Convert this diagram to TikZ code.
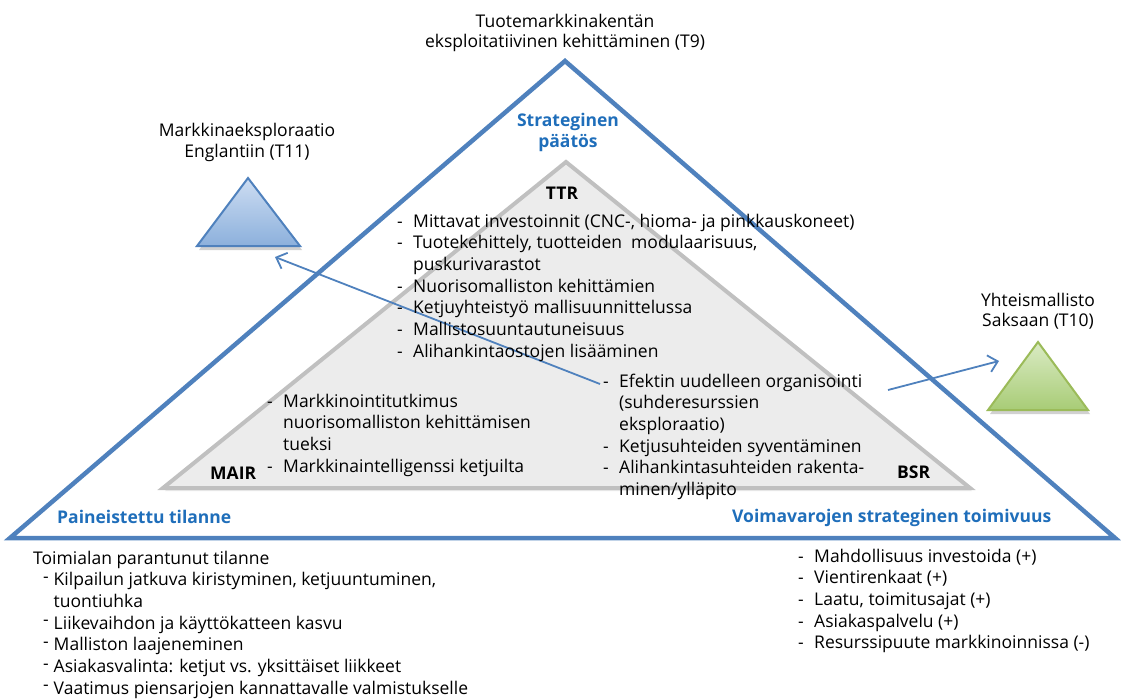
\documentclass[tikz,border=0pt]{standalone}
\usepackage{fontspec}
\setmainfont{Open Sans}
\usetikzlibrary{arrows.meta}

\definecolor{frameblue}{RGB}{79,129,189}
\definecolor{labelblue}{RGB}{31,110,186}
\definecolor{innerline}{RGB}{192,192,192}
\definecolor{innerfill}{RGB}{236,236,236}
\definecolor{bluetop}{RGB}{205,221,242}
\definecolor{bluebot}{RGB}{140,176,220}
\definecolor{greentop}{RGB}{218,235,196}
\definecolor{greenbot}{RGB}{168,204,118}
\definecolor{greenline}{RGB}{155,187,89}

\newcommand\bodyfont{\fontsize{17.5}{21.7}\selectfont}
\newcommand\lidash{\makebox[16pt][l]{-}}
\newcommand\liskip{\hspace*{16pt}}
\newcommand\lowdash{\makebox[16pt][l]{\raisebox{0.35ex}{-}}}

\tikzset{
  body/.style={font=\bodyfont, inner sep=0pt, anchor=base west},
  title/.style={font=\bodyfont, inner sep=0pt, anchor=base, align=center},
  tag/.style={font=\bodyfont\bfseries, inner sep=0pt, anchor=base west},
  bluetag/.style={font=\bodyfont\bfseries, text=labelblue, inner sep=0pt},
  link/.style={draw=frameblue, line width=1.8pt,
    -{Straight Barb[length=9pt, width=17pt, line width=1.8pt]}},
  shadow/.style={fill=black, opacity=0.18},
}

\begin{document}
\begin{tikzpicture}[x=1pt, y=-1pt]
\useasboundingbox (0,0) rectangle (1121,699);

% outer frame triangle
\draw[frameblue, line width=4.5pt, line join=miter] (10,538) -- (565,61) -- (1115,538) -- cycle;

% inner resource triangle
\fill[black, opacity=0.08] (165,491) -- (566,165) -- (972,491) -- cycle;
\draw[innerline, fill=innerfill, line width=4pt, line join=miter] (163,488) -- (566,162) -- (970,488) -- cycle;

% small market triangles
\fill[shadow] (199,250) -- (249,181) -- (302,250) -- cycle;
\draw[frameblue, line width=2pt, top color=bluetop, bottom color=bluebot] (197,246) -- (248,178) -- (300,246) -- cycle;
\fill[shadow] (990,414) -- (1039,346) -- (1090,414) -- cycle;
\draw[greenline, line width=2pt, top color=greentop, bottom color=greenbot] (988,410) -- (1038,342) -- (1088,410) -- cycle;

% connector end points
\coordinate (efStart) at (600,384);
\coordinate (efEnd) at (888,390);
\coordinate (t11) at (275,257);
\coordinate (t10) at (999,361);
\draw[link] (efStart) -- (t11);
\draw[link] (efEnd) -- (t10);

% titles
\node[title] (t9a) at (565,27) {Tuotemarkkinakentän};
\node[title] (t9b) at (565,47) {eksploitatiivinen kehittäminen (T9)};
\node[title] (t11a) at (247,136) {Markkinaeksploraatio};
\node[title] (t11b) at (247,157) {Englantiin (T11)};
\node[title] (t10a) at (1038,306) {Yhteismallisto};
\node[title] (t10b) at (1038,326) {Saksaan (T10)};

\node[bluetag, anchor=base] (strA) at (568,126) {Strateginen};
\node[bluetag, anchor=base] (strB) at (568,147) {päätös};
\node[bluetag, anchor=base west] (paine) at (57,523) {Paineistettu tilanne};
\node[bluetag, anchor=base west] (voima) at (732,522) {Voimavarojen\ strateginen toimivuus};

% resource labels
\node[tag, anchor=base] (ttr) at (562,199) {TTR};
\node[tag] (mair) at (210,479) {MAIR};
\node[tag] (bsr) at (897,478) {BSR};

% TTR items
\node[body] (ttrlist) at (397,227) {\begin{tabular}[t]{@{}l@{}}
\lidash Mittavat investoinnit (CNC-, hioma- ja pinkkauskoneet)\\
\lidash Tuotekehittely, tuotteiden\ \ modulaarisuus,\\
\liskip puskurivarastot\\
\lidash Nuorisomalliston kehittämien\\
\lidash Ketjuyhteistyö mallisuunnittelussa\\
\lidash Mallistosuuntautuneisuus\\
\lidash Alihankintaostojen lisääminen
\end{tabular}};

% MAIR items
\node[body] (mairlist) at (267,407) {\begin{tabular}[t]{@{}l@{}}
\lidash Markkinointitutkimus\\
\liskip nuorisomalliston kehittämisen\\
\liskip tueksi\\
\lidash Markkinaintelligenssi ketjuilta
\end{tabular}};

% BSR items
\node[body] (bsrlist) at (603,387) {\begin{tabular}[t]{@{}l@{}}
\lidash Efektin uudelleen organisointi\\
\liskip (suhderesurssien\\
\liskip eksploraatio)\\
\lidash Ketjusuhteiden syventäminen\\
\lidash Alihankintasuhteiden rakenta-\\
\liskip minen/ylläpito
\end{tabular}};

% situation below the frame
\node[body] (sitlist) at (33,564) {\begin{tabular}[t]{@{}l@{}}
Toimialan parantunut tilanne\\
\hspace*{10pt}\makebox[6pt][l]{\raisebox{0.35ex}{-}}\ Kilpailun jatkuva kiristyminen, ketjuuntuminen,\\
\hspace*{16pt}\ tuontiuhka\\
\hspace*{10pt}\makebox[6pt][l]{\raisebox{0.35ex}{-}}\ Liikevaihdon ja käyttökatteen kasvu\\
\hspace*{10pt}\makebox[6pt][l]{\raisebox{0.35ex}{-}}\ Malliston laajeneminen\\
\hspace*{10pt}\makebox[6pt][l]{\raisebox{0.35ex}{-}}\ Asiakasvalinta: ketjut vs. yksittäiset liikkeet\\
\hspace*{10pt}\makebox[6pt][l]{\raisebox{0.35ex}{-}}\ Vaatimus piensarjojen kannattavalle valmistukselle
\end{tabular}};

% resource assessment below the frame
\node[body] (reslist) at (798,562) {\begin{tabular}[t]{@{}l@{}}
\lidash Mahdollisuus investoida (+)\\
\lidash Vientirenkaat (+)\\
\lidash Laatu, toimitusajat (+)\\
\lidash Asiakaspalvelu (+)\\
\lidash Resurssipuute markkinoinnissa (-)
\end{tabular}};

\end{tikzpicture}
\end{document}
